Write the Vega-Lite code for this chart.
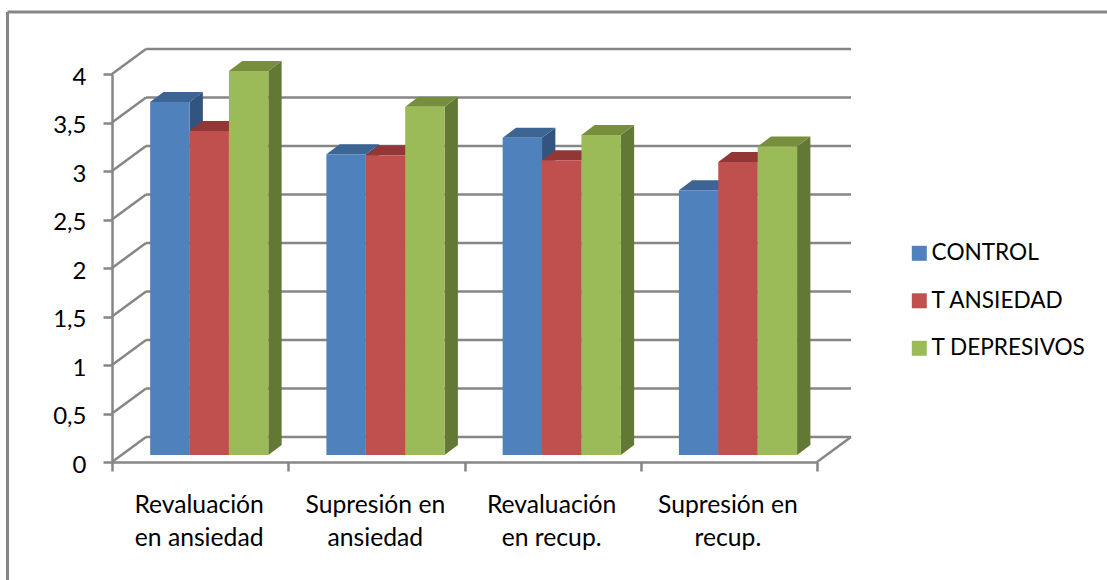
{
  "$schema": "https://vega.github.io/schema/vega-lite/v6.json",
  "autosize": "none",
  "padding": {"left": 7, "top": 12, "right": 7, "bottom": 8},
  "width": 1093,
  "height": 560,
  "background": "#ffffff",
  "view": {"stroke": null, "fill": "#ffffff"},
  "config": {
    "font": "Lato",
    "axis": {"labelFont": "Lato", "labelFontSize": 24, "labelColor": "#000000", "grid": false, "title": null,
      "domainColor": "#868686", "domainWidth": 2.5, "tickColor": "#868686", "tickWidth": 2.5, "tickSize": 9}
  },
  "datasets": {
    "medias": [
      {"grupo": "Revaluación en ansiedad", "serie": "CONTROL", "valor": 3.64},
      {"grupo": "Revaluación en ansiedad", "serie": "T ANSIEDAD", "valor": 3.34},
      {"grupo": "Revaluación en ansiedad", "serie": "T DEPRESIVOS", "valor": 3.96},
      {"grupo": "Supresión en ansiedad", "serie": "CONTROL", "valor": 3.1},
      {"grupo": "Supresión en ansiedad", "serie": "T ANSIEDAD", "valor": 3.09},
      {"grupo": "Supresión en ansiedad", "serie": "T DEPRESIVOS", "valor": 3.59},
      {"grupo": "Revaluación en recup.", "serie": "CONTROL", "valor": 3.27},
      {"grupo": "Revaluación en recup.", "serie": "T ANSIEDAD", "valor": 3.04},
      {"grupo": "Revaluación en recup.", "serie": "T DEPRESIVOS", "valor": 3.3},
      {"grupo": "Supresión en recup.", "serie": "CONTROL", "valor": 2.73},
      {"grupo": "Supresión en recup.", "serie": "T ANSIEDAD", "valor": 3.02},
      {"grupo": "Supresión en recup.", "serie": "T DEPRESIVOS", "valor": 3.18}
    ],
    "divisiones": [
      {"v": 0}, {"v": 0.5}, {"v": 1}, {"v": 1.5}, {"v": 2}, {"v": 2.5}, {"v": 3}, {"v": 3.5}, {"v": 4}
    ],
    "marco": [{"borde": "area del grafico"}]
  },
  "resolve": {"scale": {"x": "independent", "color": "independent"}},
  "layer": [
    {
      "description": "Chart area edge, left side",
      "data": {"name": "marco"},
      "mark": {"type": "rule", "color": "#868686", "strokeWidth": 3},
      "encoding": {
        "x": {"datum": -0.5929, "type": "quantitative", "scale": {"domain": [0, 4], "range": [105, 810], "nice": false}, "axis": null},
        "y": {"datum": -1.4, "type": "quantitative", "scale": {"domain": [0, 4], "range": [450, 62], "nice": false},
          "axis": {"orient": "left", "offset": -105, "values": [0, 0.5, 1, 1.5, 2, 2.5, 3, 3.5, 4], "labelExpr": "replace(format(datum.value, '~g'), '.', ',')", "labelPadding": 17, "labelOffset": 3, "zindex": 0}},
        "y2": {"datum": 4.639}
      }
    },
    {
      "description": "Chart area edge, top side",
      "data": {"name": "marco"},
      "mark": {"type": "rule", "color": "#868686", "strokeWidth": 3},
      "encoding": {
        "x": {"datum": -0.5929, "type": "quantitative", "scale": {"domain": [0, 4], "range": [105, 810], "nice": false}, "axis": null},
        "x2": {"datum": 5.8},
        "y": {"datum": 4.639, "type": "quantitative"}
      }
    },
    {
      "description": "Back wall gridlines",
      "data": {"name": "divisiones"},
      "transform": [{"calculate": "datum.v + 0.258", "as": "yb"}, {"calculate": "0.193", "as": "x0"}, {"calculate": "4.193", "as": "x1"}],
      "mark": {"type": "rule", "color": "#868686", "strokeWidth": 2.5},
      "encoding": {
        "x": {"field": "x0", "type": "quantitative", "scale": {"domain": [0, 4], "range": [105, 810], "nice": false}, "axis": null},
        "x2": {"field": "x1"},
        "y": {"field": "yb", "type": "quantitative"}
      }
    },
    {
      "description": "Side wall diagonals",
      "data": {"name": "divisiones"},
      "transform": [{"calculate": "datum.v + 0.258", "as": "yb"}, {"calculate": "0", "as": "x0"}, {"calculate": "0.193", "as": "x1"}],
      "mark": {"type": "rule", "color": "#868686", "strokeWidth": 2.5},
      "encoding": {
        "x": {"field": "x0", "type": "quantitative", "scale": {"domain": [0, 4], "range": [105, 810], "nice": false}, "axis": null},
        "x2": {"field": "x1"},
        "y": {"field": "v", "type": "quantitative"},
        "y2": {"field": "yb"}
      }
    },
    {
      "description": "Floor edge on the right",
      "data": {"values": [{"v": 0}]},
      "transform": [{"calculate": "0.258", "as": "yb"}, {"calculate": "4", "as": "x0"}, {"calculate": "4.193", "as": "x1"}],
      "mark": {"type": "rule", "color": "#868686", "strokeWidth": 2.5},
      "encoding": {
        "x": {"field": "x0", "type": "quantitative", "scale": {"domain": [0, 4], "range": [105, 810], "nice": false}, "axis": null},
        "x2": {"field": "x1"},
        "y": {"field": "v", "type": "quantitative"},
        "y2": {"field": "yb"}
      }
    },
    {
      "description": "Category axis with ticks between groups",
      "data": {"name": "medias"},
      "mark": {"type": "rule", "opacity": 0},
      "encoding": {
        "x": {"field": "grupo", "type": "nominal", "sort": null,
          "scale": {"type": "band", "domain": ["Revaluación en ansiedad", "Supresión en ansiedad", "Revaluación en recup.", "Supresión en recup."], "range": [105, 810], "paddingInner": 0, "paddingOuter": 0},
          "axis": {"orient": "bottom", "offset": -110, "labelAngle": 0, "tickBand": "extent", "labelPadding": 21, "labelFontSize": 24.7, "labelLineHeight": 33, "labelBaseline": "top", "labelLimit": 0, "labelOffset": -1.5,
            "labelExpr": "split(replace(datum.label, /^(Revaluación|Supresión en) /, '$1|'), '|')", "zindex": 0}}
      }
    },
    {
      "description": "Right-hand faces of the columns",
      "data": {"name": "medias"},
      "transform": [
        {"calculate": "indexof(['Revaluación en ansiedad','Supresión en ansiedad','Revaluación en recup.','Supresión en recup.'], datum.grupo)", "as": "g"},
        {"calculate": "indexof(['CONTROL','T ANSIEDAD','T DEPRESIVOS'], datum.serie)", "as": "s"},
        {"calculate": "datum.g + 0.2165 + (datum.s + 1) * 0.2235", "as": "xr"},
        {"calculate": "datum.grupo + datum.serie", "as": "columna"},
        {"calculate": "[0, 1]", "as": "f"},
        {"flatten": ["f"]},
        {"calculate": "datum.xr + datum.f * 0.0755", "as": "px"},
        {"calculate": "0.072 + datum.f * 0.103", "as": "py0"},
        {"calculate": "datum.valor + 0.072 + datum.f * 0.103", "as": "py1"}
      ],
      "mark": {"type": "area"},
      "encoding": {
        "x": {"field": "px", "type": "quantitative", "scale": {"domain": [0, 4], "range": [105, 810], "nice": false}, "axis": null},
        "y": {"field": "py1", "type": "quantitative", "stack": null},
        "y2": {"field": "py0"},
        "detail": {"field": "columna", "type": "nominal"},
        "color": {"field": "serie", "type": "nominal", "legend": null,
          "scale": {"domain": ["CONTROL", "T ANSIEDAD", "T DEPRESIVOS"], "range": ["#32547f", "#7e302e", "#647836"]}}
      }
    },
    {
      "description": "Top faces of the columns",
      "data": {"name": "medias"},
      "transform": [
        {"calculate": "indexof(['Revaluación en ansiedad','Supresión en ansiedad','Revaluación en recup.','Supresión en recup.'], datum.grupo)", "as": "g"},
        {"calculate": "indexof(['CONTROL','T ANSIEDAD','T DEPRESIVOS'], datum.serie)", "as": "s"},
        {"calculate": "datum.g + 0.2165 + datum.s * 0.2235", "as": "xl"},
        {"calculate": "datum.grupo + datum.serie", "as": "columna"},
        {"calculate": "[0, 1]", "as": "f"},
        {"flatten": ["f"]},
        {"calculate": "datum.xl + datum.f * 0.0755", "as": "px0"},
        {"calculate": "datum.xl + 0.2235 + datum.f * 0.0755", "as": "px1"},
        {"calculate": "datum.valor + 0.072 + datum.f * 0.103", "as": "py"}
      ],
      "mark": {"type": "area", "orient": "horizontal"},
      "encoding": {
        "y": {"field": "py", "type": "quantitative"},
        "x": {"field": "px0", "type": "quantitative", "stack": null, "scale": {"domain": [0, 4], "range": [105, 810], "nice": false}, "axis": null},
        "x2": {"field": "px1"},
        "detail": {"field": "columna", "type": "nominal"},
        "color": {"field": "serie", "type": "nominal", "legend": null,
          "scale": {"domain": ["CONTROL", "T ANSIEDAD", "T DEPRESIVOS"], "range": ["#3d6593", "#923735", "#778f3d"]}}
      }
    },
    {
      "description": "Front faces of the columns and the legend",
      "data": {"name": "medias"},
      "transform": [
        {"calculate": "indexof(['Revaluación en ansiedad','Supresión en ansiedad','Revaluación en recup.','Supresión en recup.'], datum.grupo)", "as": "g"},
        {"calculate": "indexof(['CONTROL','T ANSIEDAD','T DEPRESIVOS'], datum.serie)", "as": "s"},
        {"calculate": "datum.g + 0.2165 + datum.s * 0.2235", "as": "xl"},
        {"calculate": "datum.xl + 0.2235", "as": "xr"},
        {"calculate": "datum.valor + 0.072", "as": "techo"},
        {"calculate": "0.072", "as": "base"}
      ],
      "mark": {"type": "rect"},
      "encoding": {
        "x": {"field": "xl", "type": "quantitative", "scale": {"domain": [0, 4], "range": [105, 810], "nice": false}, "axis": null},
        "x2": {"field": "xr"},
        "y": {"field": "techo", "type": "quantitative"},
        "y2": {"field": "base"},
        "color": {"field": "serie", "type": "nominal",
          "scale": {"domain": ["CONTROL", "T ANSIEDAD", "T DEPRESIVOS"], "range": ["#4f81bd", "#c0504d", "#9bbb59"]},
          "legend": {"title": null, "orient": "none", "legendX": 901, "legendY": 230, "symbolType": "square", "symbolSize": 225, "symbolStrokeWidth": 0, "symbolOpacity": 1,
            "labelFont": "Lato", "labelFontSize": 22.6, "labelColor": "#000000", "labelOffset": 1, "rowPadding": 24.5, "labelLimit": 0}}
      }
    }
  ]
}
